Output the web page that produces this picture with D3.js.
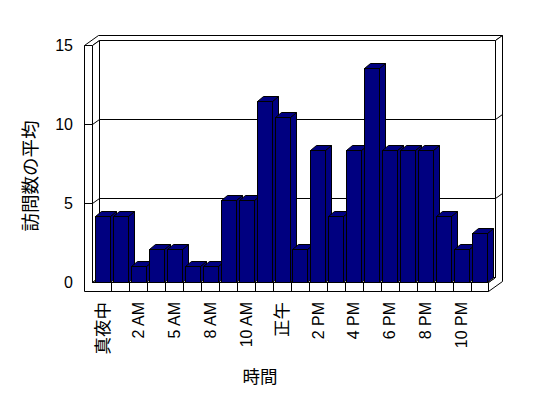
<!DOCTYPE html>
<html>
<head>
<meta charset="utf-8">
<script src="https://cdn.jsdelivr.net/npm/d3@7"></script>
<style>
  body { margin: 0; background: #fff; }
  svg { display: block; }
  text { font-family: "Liberation Sans", Arial, "Noto Sans CJK JP", sans-serif; font-size: 16px; fill: #000; }
</style>
</head>
<body>
<div class="canvas"></div>
<script>
// hours of the day (only every other one gets a label)
const hours = ["真夜中", "1 AM", "2 AM", "3 AM", "5 AM", "7 AM", "8 AM", "9 AM", "10 AM", "11 AM", "正午",
  "1 PM", "2 PM", "3 PM", "4 PM", "5 PM", "6 PM", "7 PM", "8 PM", "9 PM", "10 PM", "11 PM"];
// average visits per hour
const visits = [4.17, 4.17, 1.04, 2.08, 2.08, 1.04, 1.04, 5.21, 5.21, 11.46, 10.42,
  2.08, 8.33, 4.17, 8.33, 13.54, 8.33, 8.33, 8.33, 4.17, 2.08, 3.13];
const yTicks = [0, 5, 10, 15];
const yTitle = "訪問数の平均";
const xTitle = "時間";

const dims = { width: 548, height: 398 };
// front plane of the 3d frame and its depth offset
const frame = { wall: 84, left: 92, right: 488, floor: 291, dx: 7, dy: 5 };
const bar3d = { dx: 6, dy: 5 };

const svg = d3
  .select(".canvas")
  .append("svg")
  .attr("width", dims.width)
  .attr("height", dims.height);

const graph = svg.append("g").attr("transform", "translate(0.5, 0.5)");

const x = d3
  .scaleBand()
  .domain(hours)
  .range([93, 489])
  .paddingInner(0.167)
  .paddingOuter(0.11);

const y = d3.scaleLinear().domain([0, 15]).range([282, 45]);

const yTop = y(15);
const base = y(0);

// project a point of the front plane back by z depth units
const P = (px, py, z) => [px + z * frame.dx, py - z * frame.dy];
const poly = (pts) => d3.line()(pts) + "Z";
// japanese glyphs come out a bit larger than the latin ones
const isCJK = (s) => /[^\x00-\x7F]/.test(s);

// walls and floor
const walls = graph.append("g").attr("fill", "#fff").attr("stroke", "#000");

// top of the L-shaped walls
walls.append("path").attr("d", poly([
  P(frame.wall, yTop, 0), P(frame.left, yTop, 0), P(frame.left, yTop, 1),
  P(frame.right, yTop, 1), P(frame.right, yTop, 2), P(frame.wall, yTop, 2)
]));
// right side of back wall and floor
walls.append("path").attr("d", poly([
  P(frame.right, yTop, 1), P(frame.right, yTop, 2), P(frame.right, frame.floor, 2),
  P(frame.right, frame.floor, 0), P(frame.right, base, 0), P(frame.right, base, 1)
]));
// front face of left wall and floor
walls.append("path").attr("d", poly([
  P(frame.wall, yTop, 0), P(frame.left, yTop, 0), P(frame.left, base, 0),
  P(frame.right, base, 0), P(frame.right, frame.floor, 0), P(frame.wall, frame.floor, 0)
]));
// inner face of left wall
walls.append("path").attr("d", poly([
  P(frame.left, yTop, 0), P(frame.left, yTop, 1), P(frame.left, base, 1), P(frame.left, base, 0)
]));
// inner face of back wall
walls.append("path").attr("d", poly([
  P(frame.left, yTop, 1), P(frame.right, yTop, 1), P(frame.right, base, 1), P(frame.left, base, 1)
]));
// floor surface
walls.append("path").attr("d", poly([
  P(frame.left, base, 0), P(frame.right, base, 0), P(frame.right, base, 1), P(frame.left, base, 1)
]));

// gridlines running round the walls
graph
  .append("g")
  .selectAll("path")
  .data(yTicks.filter((v) => v > 0 && v < 15))
  .enter()
  .append("path")
  .attr("fill", "none")
  .attr("stroke", "#000")
  .attr("d", (v) => d3.line()([
    P(frame.wall, y(v), 0), P(frame.left, y(v), 0), P(frame.left, y(v), 1),
    P(frame.right, y(v), 1), P(frame.right, y(v), 2)
  ]));

// category dividers on the floor front
graph
  .append("g")
  .selectAll("line")
  .data(hours.slice(1))
  .enter()
  .append("line")
  .attr("stroke", "#000")
  .attr("x1", (d) => Math.round(x(d) - (x.step() * x.paddingInner()) / 2))
  .attr("x2", (d) => Math.round(x(d) - (x.step() * x.paddingInner()) / 2))
  .attr("y1", base)
  .attr("y2", frame.floor);

// bars, left to right so each one covers the side of the previous
const bw = x.bandwidth();
const bars = graph
  .append("g")
  .selectAll("g")
  .data(hours.map((h, i) => ({ hour: h, value: visits[i] })))
  .enter()
  .append("g")
  .attr("fill", "#000080")
  .attr("stroke", "#000");

bars.each(function (d) {
  const g = d3.select(this);
  const x0 = Math.round(x(d.hour));
  const x1 = Math.round(x(d.hour) + bw);
  const yt = Math.round(y(d.value));
  g.append("path").attr("d", poly([[x1, yt], [x1 + bar3d.dx, yt - bar3d.dy], [x1 + bar3d.dx, base - bar3d.dy], [x1, base]]));
  g.append("path").attr("d", poly([[x0, yt], [x0 + bar3d.dx, yt - bar3d.dy], [x1 + bar3d.dx, yt - bar3d.dy], [x1, yt]]));
  g.append("rect").attr("x", x0).attr("y", yt).attr("width", x1 - x0).attr("height", base - yt);
});

// y tick labels
svg
  .append("g")
  .selectAll("text")
  .data(yTicks)
  .enter()
  .append("text")
  .attr("x", 73)
  .attr("y", (v) => y(v))
  .attr("dy", "0.35em")
  .attr("text-anchor", "end")
  .text((v) => v);

// x tick labels, every other hour
svg
  .append("g")
  .selectAll("text")
  .data(hours.filter((h, i) => i % 2 === 0))
  .enter()
  .append("text")
  .attr("transform", (d) => `translate(${x(d) + bw / 2}, 302) rotate(-90)`)
  .attr("dy", "0.35em")
  .attr("text-anchor", "end")
  .style("font-size", (d) => (isCJK(d) ? "17.5px" : "16px"))
  .text((d) => d);

// axis titles
svg
  .append("text")
  .attr("x", 260)
  .attr("y", 377)
  .attr("dy", "0.35em")
  .attr("text-anchor", "middle")
  .style("font-size", "17.5px")
  .text(xTitle);

svg
  .append("text")
  .attr("transform", "translate(31, 176) rotate(-90)")
  .attr("dy", "0.35em")
  .attr("text-anchor", "middle")
  .style("font-size", "18.5px")
  .text(yTitle);
</script>
</body>
</html>
